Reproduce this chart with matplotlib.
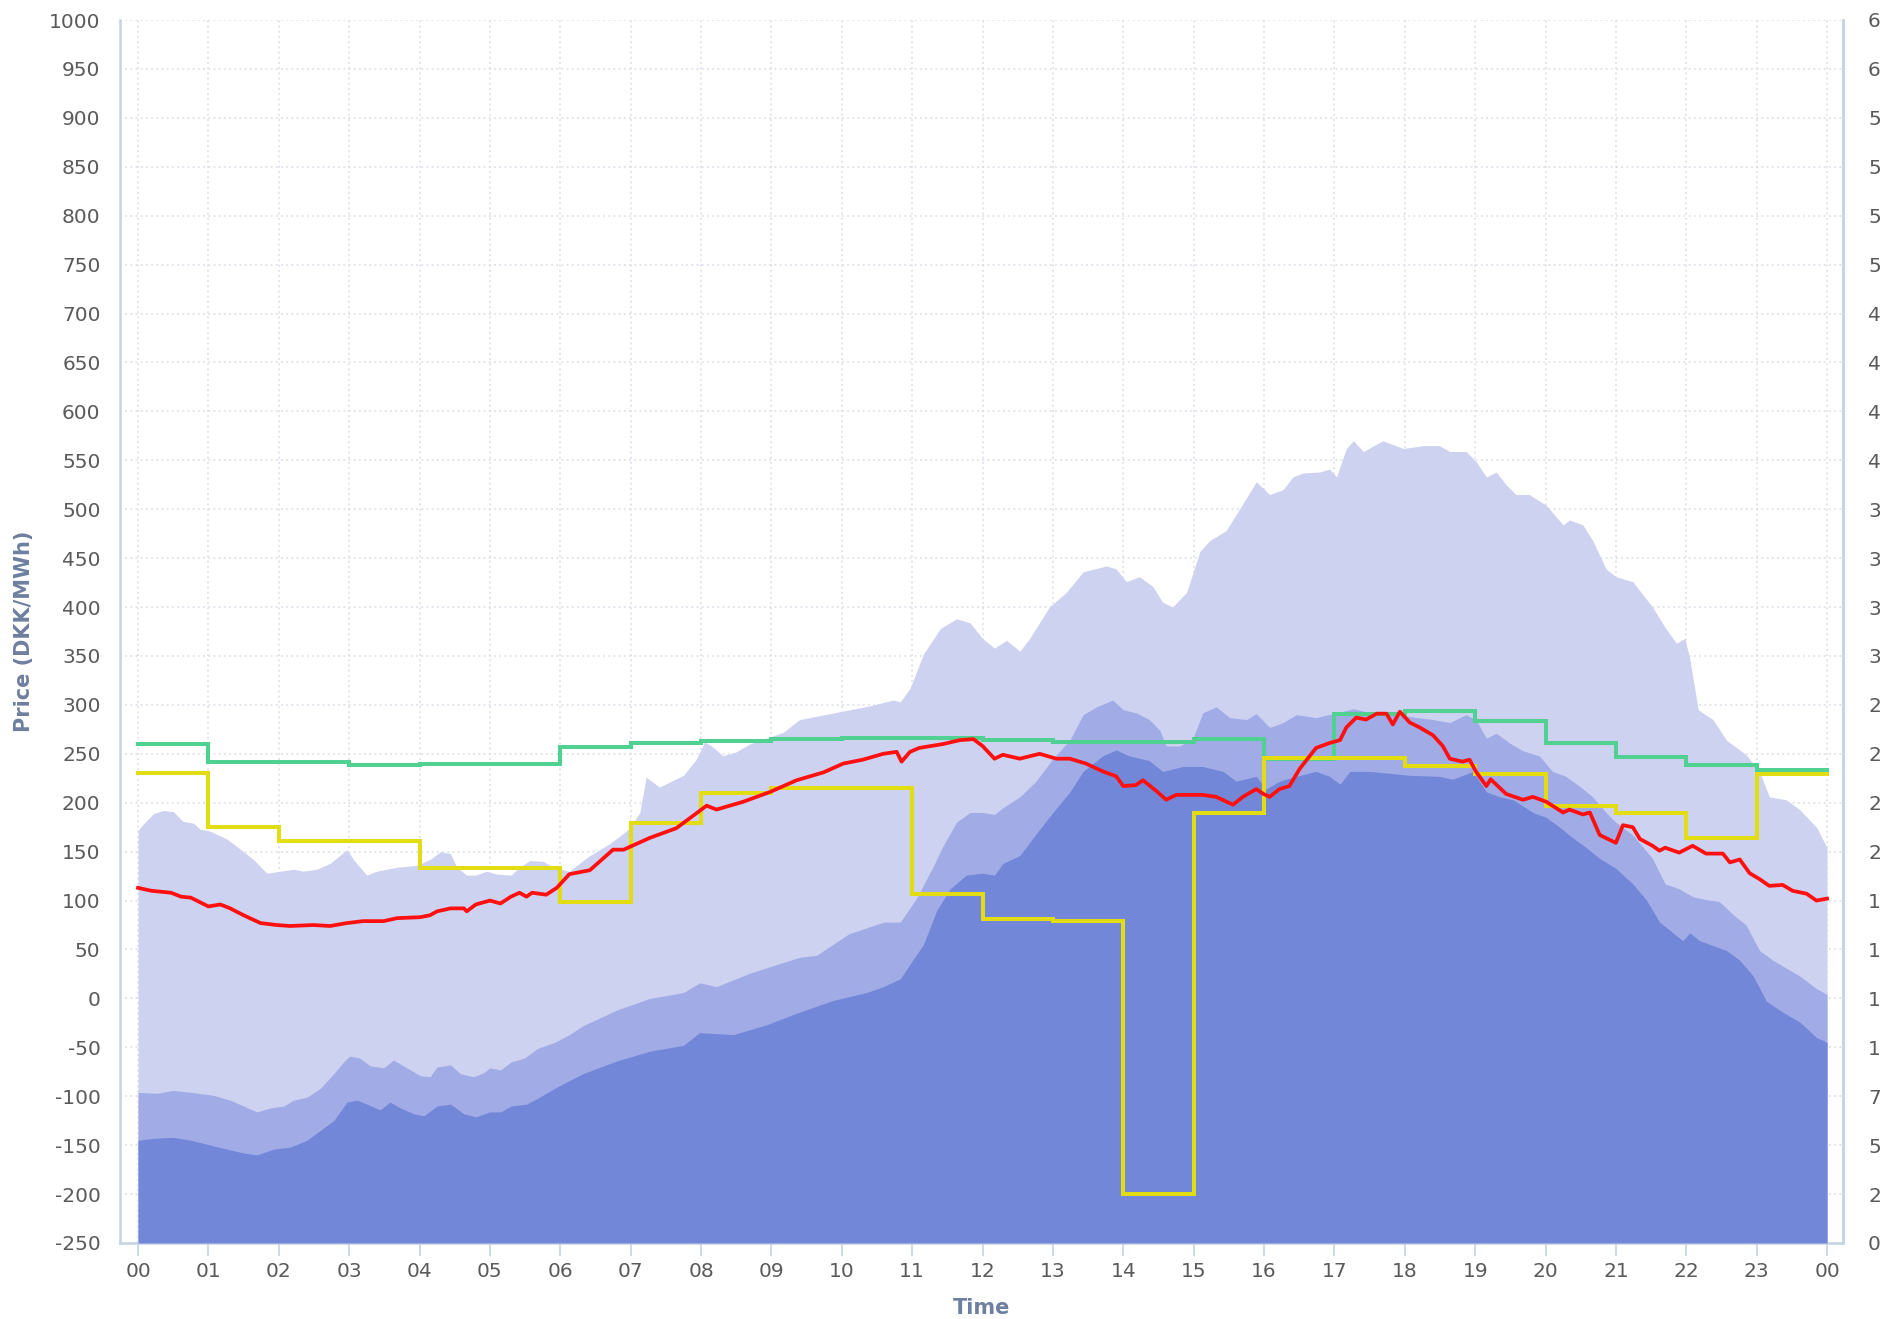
import matplotlib
matplotlib.use("Agg")
import matplotlib.pyplot as plt
import numpy as np

# ---------------- data ----------------
hour_labels = ["00", "01", "02", "03", "04", "05", "06", "07", "08", "09", "10", "11",
               "12", "13", "14", "15", "16", "17", "18", "19", "20", "21", "22", "23", "00"]

light_t = [0.0, 0.1, 0.22, 0.36, 0.5, 0.64, 0.79, 0.88, 1.02, 1.26, 1.5, 1.64, 1.83, 2.02, 2.21,
           2.35, 2.54, 2.73, 2.9, 2.97, 3.06, 3.25, 3.39, 3.68, 3.96, 4.15, 4.3, 4.44, 4.53, 4.67,
           4.8, 4.95, 5.1, 5.3, 5.42, 5.57, 5.76, 5.9, 6.13, 6.4, 6.7, 6.99, 7.13, 7.22, 7.41,
           7.75, 7.93, 8.05, 8.15, 8.31, 8.5, 8.69, 9.17, 9.4, 9.83, 10.4, 10.73, 10.83, 10.97,
           11.16, 11.4, 11.63, 11.82, 12.0, 12.17, 12.34, 12.53, 12.67, 12.95, 13.19, 13.43,
           13.76, 13.9, 14.04, 14.23, 14.42, 14.56, 14.7, 14.9, 15.09, 15.23, 15.46, 15.6, 15.89,
           16.08, 16.27, 16.41, 16.55, 16.79, 16.93, 17.03, 17.17, 17.27, 17.41, 17.69, 17.98,
           18.26, 18.49, 18.64, 18.87, 19.01, 19.16, 19.3, 19.44, 19.58, 19.77, 20.01, 20.25,
           20.34, 20.53, 20.67, 20.86, 21.0, 21.24, 21.38, 21.52, 21.7, 21.86, 21.98, 22.05,
           22.17, 22.38, 22.57, 22.85, 23.04, 23.18, 23.42, 23.61, 23.85, 24.0]
light_v = [172, 180, 189, 192, 191, 181, 179, 173, 171, 163, 150, 142, 128, 130, 132,
           130, 132, 138, 148, 152, 142, 126, 130, 134, 136, 142, 150, 148, 134, 126,
           126, 130, 127, 126, 134, 141, 140, 134, 130, 145, 158, 174, 190, 226, 216,
           228, 244, 262, 258, 248, 252, 260, 272, 285, 291, 299, 305, 303, 317,
           352, 378, 388, 384, 368, 358, 366, 355, 368, 400, 415, 436,
           442, 439, 426, 431, 421, 405, 400, 415, 457, 468, 478, 494, 528,
           515, 520, 533, 537, 538, 541, 533, 562, 570, 559, 570, 562,
           565, 565, 559, 559, 549, 533, 538, 525, 515, 515, 504, 484,
           489, 484, 468, 439, 431, 426, 413, 400, 379, 363, 368, 347,
           295, 285, 264, 249, 232, 206, 203, 193, 175, 154]

mid_t = [0.0, 0.27, 0.5, 0.75, 1.07, 1.31, 1.5, 1.69, 1.88, 2.07, 2.21, 2.4, 2.59, 2.78, 2.92,
         3.01, 3.15, 3.3, 3.49, 3.63, 3.82, 4.01, 4.15, 4.25, 4.44, 4.58, 4.77, 4.91, 5.0, 5.15,
         5.3, 5.49, 5.68, 5.92, 6.13, 6.32, 6.8, 7.27, 7.75, 7.98, 8.22, 8.7, 9.4, 9.64, 10.1,
         10.6, 10.83, 11.06, 11.3, 11.44, 11.63, 11.82, 12.0, 12.17, 12.29, 12.53, 12.76, 13.0,
         13.24, 13.43, 13.62, 13.85, 14.0, 14.18, 14.37, 14.52, 14.61, 14.8, 14.99, 15.13,
         15.32, 15.51, 15.75, 15.89, 16.08, 16.27, 16.46, 16.74, 16.98, 17.27, 17.5, 17.79,
         18.07, 18.4, 18.64, 18.87, 19.01, 19.16, 19.3, 19.49, 19.68, 19.91, 20.1, 20.29,
         20.48, 20.67, 20.86, 21.0, 21.24, 21.52, 21.7, 21.9, 22.09, 22.28, 22.47, 22.66,
         22.85, 23.04, 23.23, 23.42, 23.61, 23.85, 24.0]
mid_v = [-96, -97, -94, -96, -99, -104, -110, -116, -112, -110, -104, -101, -92, -77, -65,
         -59, -61, -69, -71, -63, -71, -79, -80, -70, -68, -77, -80, -76, -71, -73,
         -65, -61, -51, -45, -37, -28, -12, 0, 6, 16, 12, 26, 42, 44, 66,
         78, 78, 102, 135, 156, 180, 190, 190, 188, 195, 206, 222, 245,
         264, 290, 298, 305, 295, 292, 285, 274, 258, 258, 266, 292,
         298, 287, 285, 291, 277, 282, 290, 287, 291, 296, 292, 292,
         288, 285, 282, 290, 285, 266, 271, 261, 253, 248, 232, 227,
         217, 206, 190, 180, 167, 143, 117, 112, 104, 101, 99, 86,
         75, 49, 39, 31, 23, 10, 4]

dark_t = [0.0, 0.22, 0.5, 0.75, 1.03, 1.26, 1.5, 1.69, 1.93, 2.16, 2.4, 2.59, 2.78, 2.97, 3.11,
          3.25, 3.44, 3.58, 3.73, 3.92, 4.06, 4.25, 4.44, 4.63, 4.8, 5.0, 5.15, 5.3, 5.52, 5.68,
          5.92, 6.13, 6.32, 6.8, 7.27, 7.75, 7.98, 8.46, 8.93, 9.4, 9.88, 10.35, 10.59, 10.83,
          10.97, 11.16, 11.35, 11.54, 11.77, 12.0, 12.17, 12.29, 12.53, 12.76, 13.0, 13.24,
          13.43, 13.71, 13.9, 14.08, 14.37, 14.56, 14.85, 15.13, 15.42, 15.6, 15.89, 16.03,
          16.22, 16.46, 16.74, 16.93, 17.08, 17.22, 17.5, 17.79, 18.07, 18.49, 18.68, 18.97,
          19.16, 19.35, 19.54, 19.82, 20.01, 20.2, 20.39, 20.58, 20.77, 21.0, 21.24, 21.43,
          21.62, 21.76, 21.95, 22.05, 22.19, 22.38, 22.57, 22.76, 22.95, 23.14, 23.37, 23.61,
          23.85, 24.0]
dark_v = [-145, -143, -142, -145, -150, -154, -158, -160, -154, -152, -145, -135, -125, -106, -104,
          -108, -114, -106, -112, -118, -120, -110, -108, -118, -121, -116, -116, -110, -108, -102,
          -92, -84, -77, -64, -54, -48, -35, -37, -27, -14, -2, 6, 12, 20,
          35, 55, 90, 112, 126, 128, 126, 138, 146, 168, 190, 211,
          232, 248, 254, 248, 243, 232, 237, 237, 232, 222, 227, 214,
          222, 227, 232, 227, 219, 232, 232, 230, 228, 227, 224, 232,
          211, 206, 203, 190, 185, 175, 164, 154, 143, 133, 117, 101,
          78, 70, 59, 67, 59, 54, 49, 39, 23, -3, -14, -24,
          -40, -45]

red_t = [0.0, 0.19, 0.47, 0.61, 0.75, 1.0, 1.17, 1.31, 1.5, 1.74, 1.97, 2.16, 2.49, 2.73, 2.97,
         3.2, 3.49, 3.68, 4.01, 4.15, 4.25, 4.44, 4.63, 4.67, 4.8, 5.0, 5.15, 5.3, 5.42, 5.52,
         5.6, 5.8, 5.95, 6.13, 6.42, 6.75, 6.9, 7.27, 7.65, 8.08, 8.22, 8.6, 8.98, 9.36, 9.74,
         10.02, 10.3, 10.59, 10.78, 10.85, 10.97, 11.1, 11.44, 11.68, 11.87, 12.0, 12.17, 12.29,
         12.53, 12.81, 13.05, 13.24, 13.47, 13.71, 13.9, 14.0, 14.18, 14.28, 14.47, 14.61,
         14.75, 15.13, 15.32, 15.56, 15.7, 15.89, 15.99, 16.08, 16.22, 16.36, 16.51, 16.74,
         16.93, 17.08, 17.17, 17.31, 17.45, 17.6, 17.74, 17.83, 17.93, 18.07, 18.21, 18.4,
         18.54, 18.64, 18.82, 18.92, 19.01, 19.16, 19.22, 19.44, 19.68, 19.82, 20.01, 20.25,
         20.34, 20.53, 20.63, 20.77, 21.0, 21.1, 21.24, 21.34, 21.52, 21.62, 21.7, 21.9, 22.09,
         22.28, 22.52, 22.62, 22.76, 22.9, 23.04, 23.18, 23.37, 23.51, 23.71, 23.85, 24.0]
red_v = [113, 110, 108, 104, 103, 94, 96, 92, 85, 77, 75, 74, 75, 74, 77,
         79, 79, 82, 83, 85, 89, 92, 92, 89, 96, 100, 97, 104, 108, 104,
         108, 106, 113, 127, 131, 152, 152, 164, 174, 197, 193, 201, 211, 223, 231,
         240, 244, 250, 252, 242, 252, 256, 260, 264, 265, 258, 245, 249,
         245, 250, 245, 245, 240, 232, 227, 217, 218, 223, 212, 203,
         208, 208, 206, 198, 206, 214, 209, 206, 214, 217, 235, 256,
         261, 264, 277, 287, 285, 291, 291, 280, 293, 282, 277, 269,
         258, 245, 242, 244, 232, 217, 224, 209, 203, 206, 201, 190,
         193, 188, 190, 167, 159, 177, 175, 163, 156, 151, 154, 149, 156,
         148, 148, 139, 142, 128, 122, 115, 116, 110, 107, 100, 102]

step_hours = list(range(25))
green_v = [260, 242, 242, 239, 240, 240, 257, 261, 263, 265, 266, 266,
           264, 262, 262, 265, 245, 291, 294, 284, 261, 247, 239, 233]
yellow_v = [230, 175, 161, 161, 133, 133, 99, 179, 210, 215, 215, 107,
            81, 79, -200, 189, 246, 246, 238, 229, 197, 190, 164, 229]

left_ticks = list(range(-250, 1001, 50))
right_ticks = list(range(0, 6251, 250))

# ---------------- plot ----------------
W, H = 1880, 1319
fig = plt.figure(figsize=(W / 100, H / 100), dpi=100)
ax = fig.add_axes([120 / W, 1 - 1243 / H, (1843 - 120) / W, (1243 - 20) / H])

c_light = "#CED2F1"
c_mid = "#A1ACE6"
c_dark = "#7387D9"
spine_c = "#C5D3E3"
grid_c = "#D9DCE6"
tick_c = "#5A5A5A"
label_c = "#6E7F9F"

base = -250
ax.fill_between(light_t, base, light_v, color=c_light, lw=0, zorder=1)
ax.fill_between(mid_t, base, mid_v, color=c_mid, lw=0, zorder=2)
ax.fill_between(dark_t, base, dark_v, color=c_dark, lw=0, zorder=3)

ax.step(step_hours, green_v + [green_v[-1]], where="post", color="#50D191", lw=2.9, zorder=5,
        solid_joinstyle="miter")
ax.step(step_hours, yellow_v + [yellow_v[-1]], where="post", color="#E2DC12", lw=2.9, zorder=5,
        solid_joinstyle="miter")
ax.plot(red_t, red_v, color="#FF1010", lw=2.7, zorder=6, solid_joinstyle="round")

ax.set_xlim(-0.256, 24.227)
ax.set_ylim(-250, 1000)
ax.set_yticks(left_ticks)
ax.set_yticklabels([str(v) for v in left_ticks])
ax.set_xticks(step_hours)
ax.set_xticklabels(hour_labels)

ax.grid(True, which="major", linestyle=(0, (1.2, 2.2)), color=grid_c, lw=1.1, zorder=0)
ax.set_axisbelow(True)

for s in ["left", "right", "bottom"]:
    ax.spines[s].set_color(spine_c)
    ax.spines[s].set_linewidth(1.8)
ax.spines["top"].set_visible(False)

ax.tick_params(axis="y", length=0, pad=14, labelsize=14.5, labelcolor=tick_c)
ax.tick_params(axis="x", length=9, width=1.2, color=spine_c, pad=5, labelsize=14.5,
               labelcolor=tick_c)

ax.set_ylabel("Price (DKK/MWh)", fontsize=15, fontweight="bold", color=label_c, labelpad=11)
ax.set_xlabel("Time", fontsize=15, fontweight="bold", color=label_c, labelpad=12)

ax2 = ax.twinx()
ax2.set_ylim(0, 6250)
ax2.set_yticks(right_ticks)
ax2.set_yticklabels([str(v) for v in right_ticks])
ax2.tick_params(axis="y", length=0, pad=18, labelsize=14.5, labelcolor=tick_c)
for s in ["left", "top", "bottom"]:
    ax2.spines[s].set_visible(False)
ax2.spines["right"].set_color(spine_c)
ax2.spines["right"].set_linewidth(1.8)

fig.savefig("out.png", dpi=100)
